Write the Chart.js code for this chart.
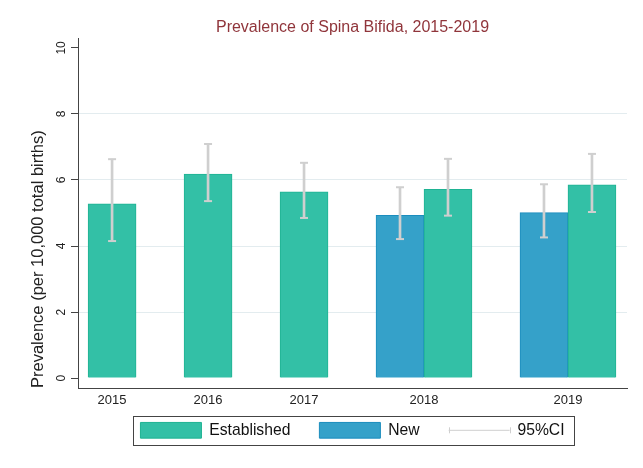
<!DOCTYPE html>
<html><head><meta charset="utf-8">
<script src="https://cdn.jsdelivr.net/npm/chart.js@4"></script>
<style>html,body{margin:0;padding:0;background:#fff}canvas{display:block}</style>
</head><body>
<canvas id="c" width="643" height="468"></canvas>
<script>
// ---- data ----
const years = ['2015', '2016', '2017', '2018', '2019'];
const established = [5.28, 6.18, 5.64, 5.72, 5.85];
const establishedLow = [4.15, 5.36, 4.85, 4.92, 5.03];
const establishedHigh = [6.63, 7.09, 6.52, 6.64, 6.79];
const newPrev = [null, null, null, 4.93, 5.01];
const newLow = [null, null, null, 4.21, 4.26];
const newHigh = [null, null, null, 5.78, 5.87];
const yTicks = [0, 2, 4, 6, 8, 10];
const legendLabels = ['Established', 'New', '95%CI'];

// ---- styles ----
const EST_FILL = '#33C0A6', EST_BORDER = '#1FB393';
const NEW_FILL = '#35A1C9', NEW_BORDER = '#1B8DBE';
const CI_COLOR = '#CFCFCF';
const AXIS = '#444444';
const FONT = "'Liberation Sans', Arial, sans-serif";

// ---- build bar slots (Stata-style: one slot per bar, one gap slot between years) ----
const estPts = [], newPts = [], ciBars = [], ciCaps = [], groupCenters = [];
let slot = 0;
years.forEach((yr, i) => {
  const first = slot;
  if (newPrev[i] != null) {
    newPts.push({ x: slot, y: newPrev[i] });
    ciBars.push({ x: slot, y: [newLow[i], newHigh[i]] });
    ciCaps.push({ x: slot, y: newLow[i] }, { x: slot, y: newHigh[i] });
    slot++;
  }
  estPts.push({ x: slot, y: established[i] });
  ciBars.push({ x: slot, y: [establishedLow[i], establishedHigh[i]] });
  ciCaps.push({ x: slot, y: establishedLow[i] }, { x: slot, y: establishedHigh[i] });
  groupCenters.push((first + slot) / 2);
  slot += 2;
});
const lastSlot = slot - 2;

const LEGEND_SHIFT = 14.55;
const legendFrame = {
  id: 'legendFrame',
  afterLayout(chart) {
    const lg = chart.legend;
    if (lg) { lg.top -= LEGEND_SHIFT; lg.bottom -= LEGEND_SHIFT; }
  },
  afterDraw(chart) {
    const lg = chart.legend;
    if (!lg || !lg.legendHitBoxes || !lg.legendHitBoxes.length) return;
    const hb = lg.legendHitBoxes;
    const ctx = chart.ctx;
    const first = hb[0], last = hb[hb.length - 1];
    const cy = first.top + first.height / 2;
    ctx.save();
    ctx.strokeStyle = AXIS;
    ctx.lineWidth = 1;
    const l = Math.round(first.left - 7) + 0.5;
    const r = Math.round(last.left + last.width + 9.5) + 0.5;
    const t = Math.round(cy - 14.6) + 0.5;
    const b = Math.round(cy + 14.6) + 0.5;
    ctx.strokeRect(l, t, r - l, b - t);
    ctx.strokeStyle = CI_COLOR;
    const bw = lg.options.labels.pointStyleWidth;
    [last.left, last.left + bw].forEach(x => {
      ctx.beginPath();
      ctx.moveTo(Math.round(x) + 0.5, cy - 3);
      ctx.lineTo(Math.round(x) + 0.5, cy + 3);
      ctx.stroke();
    });
    ctx.restore();
  }
};

new Chart(document.getElementById('c'), {
  type: 'bar',
  data: {
    datasets: [
      { label: 'Established', data: estPts, backgroundColor: EST_FILL, borderColor: EST_BORDER,
        borderWidth: 1, grouped: false, categoryPercentage: 1, barPercentage: 1, order: 3 },
      { label: 'New', data: newPts, backgroundColor: NEW_FILL, borderColor: NEW_BORDER,
        borderWidth: 1, grouped: false, categoryPercentage: 1, barPercentage: 1, order: 3 },
      { label: '95%CI', data: ciBars, backgroundColor: CI_COLOR, borderWidth: 0,
        grouped: false, categoryPercentage: 1, barPercentage: 1, maxBarThickness: 2, order: 2 },
      { type: 'scatter', label: 'caps', data: ciCaps, pointStyle: 'line', pointRadius: 4,
        borderColor: CI_COLOR, backgroundColor: CI_COLOR, borderWidth: 2, order: 1 }
    ]
  },
  options: {
    responsive: false,
    animation: false,
    events: [],
    font: { family: FONT },
    layout: { padding: { left: 0, right: 16, top: 0, bottom: 5.3 } },
    plugins: {
      tooltip: { enabled: false },
      title: {
        display: true,
        fullSize: false,
        text: 'Prevalence of Spina Bifida, 2015-2019',
        color: '#90353B',
        font: { family: FONT, size: 16, weight: 'normal' },
        padding: { top: 18.2, bottom: 0.6 }
      },
      legend: {
        position: 'bottom',
        fullSize: false,
        labels: {
          usePointStyle: true,
          pointStyleWidth: 61,
          boxHeight: 16,
          padding: 29,
          color: '#111',
          font: { family: FONT, size: 15.7 },
          generateLabels: () => [
            { text: legendLabels[0], fillStyle: EST_FILL, strokeStyle: EST_BORDER, lineWidth: 1, pointStyle: 'rect', hidden: false, fontColor: '#111' },
            { text: legendLabels[1], fillStyle: NEW_FILL, strokeStyle: NEW_BORDER, lineWidth: 1, pointStyle: 'rect', hidden: false, fontColor: '#111' },
            { text: legendLabels[2], fillStyle: 'rgba(0,0,0,0)', strokeStyle: CI_COLOR, lineWidth: 1, pointStyle: 'line', hidden: false, fontColor: '#111' }
          ]
        }
      }
    },
    scales: {
      x: {
        type: 'linear',
        offset: false,
        min: -0.5 - 0.21,
        max: lastSlot + 0.5 + 0.23,
        afterBuildTicks: (s) => { s.ticks = groupCenters.map(v => ({ value: v })); },
        afterFit: (s) => { s.height = 20; },
        grid: { display: false, drawTicks: false },
        border: { display: true, color: AXIS, width: 1 },
        ticks: {
          maxRotation: 0, minRotation: 0, autoSkip: false, padding: 5,
          color: '#222', font: { family: FONT, size: 13 },
          callback: (v, i) => years[i]
        }
      },
      y: {
        min: -0.3,
        max: 10.3,
        afterBuildTicks: (s) => { s.ticks = yTicks.map(v => ({ value: v })); },
        afterFit: (s) => { s.width = 78; },
        grid: {
          color: (c) => (c.tick && (c.tick.value === yTicks[0] || c.tick.value === yTicks[yTicks.length - 1])) ? 'rgba(0,0,0,0)' : '#E3ECEF',
          tickColor: AXIS,
          tickLength: 7,
          drawTicks: true,
          lineWidth: 1
        },
        border: { display: true, color: AXIS, width: 1 },
        ticks: {
          minRotation: 90, maxRotation: 90, crossAlign: 'center', padding: 3,
          color: '#222', font: { family: FONT, size: 12 },
          callback: (v) => String(v)
        },
        title: {
          display: true,
          text: 'Prevalence (per 10,000 total births)',
          align: 'start',
          color: '#222',
          font: { family: FONT, size: 16.5 },
          padding: { top: 28.1, bottom: 0 }
        }
      }
    }
  },
  plugins: [legendFrame]
});
</script>
</body></html>
